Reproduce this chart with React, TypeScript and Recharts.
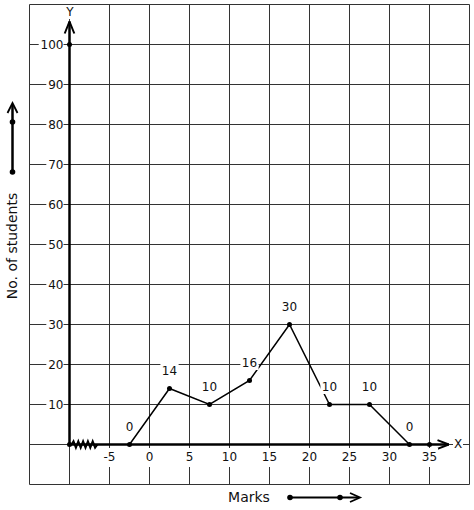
import React from 'react';
import {
  ComposedChart, Line, Scatter, XAxis, YAxis, CartesianGrid, ReferenceLine, LabelList,
} from 'recharts';

if (typeof document !== 'undefined') document.body.style.margin = '0';

// frequency polygon: class mid-points and no. of students
const midMarks = [-2.5, 2.5, 7.5, 12.5, 17.5, 22.5, 27.5, 32.5];
const students = [0, 14, 10, 16, 30, 10, 10, 0];

// grid ticks and the ones that get a label
const xTicks = [-15, -10, -5, 0, 5, 10, 15, 20, 25, 30, 35, 40];
const yTicks = [-10, 0, 10, 20, 30, 40, 50, 60, 70, 80, 90, 100, 110];
const xLabelTicks = [-5, 0, 5, 10, 15, 20, 25, 30, 35];
const yLabelTicks = [10, 20, 30, 40, 50, 60, 70, 80, 90, 100];

// extra dots on the axes
const axisDotMarks = [-10, -10, 35];
const axisDotStudents = [0, 100, 0];

// kink (zig-zag) on the x axis near the origin
const zigMarks = [-9.75, -9.5, -9.2, -8.9, -8.6, -8.3, -8.0, -7.7, -7.4, -7.1, -6.8, -6.5];
const zigStudents = [0, 0.8, -0.8, 0.8, -0.8, 0.8, -0.8, 0.8, -0.8, 0.8, -0.8, 0];

const polygon = midMarks.map((m, i) => ({ marks: m, students: students[i] }));
const axisDots = axisDotMarks.map((m, i) => ({ marks: m, students: axisDotStudents[i] }));
const zigzag = zigMarks.map((m, i) => ({ marks: m, students: zigStudents[i] }));

const FONT = '"DejaVu Sans", sans-serif';
const INK = '#111';

function XTick({ x, y, payload }: any) {
  if (!xLabelTicks.includes(payload.value)) return null;
  const label = String(payload.value);
  const w = label.length * 7.6 + 2;
  const cy = y - 27.5;
  return (
    <g>
      <rect x={x - w / 2} y={cy - 9} width={w} height={19} fill="#fff" />
      <text x={x} y={cy} textAnchor="middle" dominantBaseline="central"
        fontFamily={FONT} fontSize={12} fill={INK}>{label}</text>
    </g>
  );
}

function YTick({ x, y, payload }: any) {
  if (!yLabelTicks.includes(payload.value)) return null;
  const label = String(payload.value);
  const w = label.length * 7.6 + 2;
  const right = x + 34;
  return (
    <g>
      <rect x={right - w} y={y - 6} width={w} height={12} fill="#fff" />
      <text x={right} y={y} textAnchor="end" dominantBaseline="central"
        fontFamily={FONT} fontSize={12} fill={INK}>{label}</text>
    </g>
  );
}

function PointLabel(props: any) {
  const { x, y, value } = props;
  const label = String(value);
  const w = label.length * 7.6 + 3;
  const cy = y - 18;
  return (
    <g>
      <rect x={x - w / 2} y={cy - 7.5} width={w} height={15} fill="#fff" />
      <text x={x} y={cy} textAnchor="middle" dominantBaseline="central"
        fontFamily={FONT} fontSize={12} fill={INK}>{label}</text>
    </g>
  );
}

const dotShape = (p: any) => <circle cx={p.cx} cy={p.cy} r={2.5} fill="#000" />;

export default function App() {
  return (
    <div style={{ position: 'relative', width: 474, height: 510, background: '#fff' }}>
      <ComposedChart
        width={474}
        height={510}
        margin={{ top: 4.5, right: 4.5, bottom: 24.5, left: 28.5 }}
      >
        <CartesianGrid stroke="#333" strokeWidth={1} />
        <XAxis
          type="number"
          dataKey="marks"
          domain={[-15, 40]}
          ticks={xTicks}
          interval={0}
          height={1}
          axisLine={false}
          tickLine={false}
          tickSize={0}
          tickMargin={0}
          tick={<XTick />}
          allowDataOverflow
        />
        <YAxis
          type="number"
          dataKey="students"
          domain={[-10, 110]}
          ticks={yTicks}
          interval={0}
          width={1}
          axisLine={false}
          tickLine={false}
          tickSize={0}
          tickMargin={0}
          tick={<YTick />}
          allowDataOverflow
        />
        {/* axes with arrow heads */}
        <ReferenceLine segment={[{ x: -10, y: 0 }, { x: 37.4, y: 0 }]} stroke="#000" strokeWidth={2.5} />
        <ReferenceLine segment={[{ x: -10, y: 0 }, { x: -10, y: 105.75 }]} stroke="#000" strokeWidth={2.5} />
        <ReferenceLine segment={[{ x: 36.0, y: 1.1 }, { x: 37.4, y: 0 }]} stroke="#000" strokeWidth={2} />
        <ReferenceLine segment={[{ x: 36.0, y: -1.1 }, { x: 37.4, y: 0 }]} stroke="#000" strokeWidth={2} />
        <ReferenceLine segment={[{ x: -10.6, y: 102.75 }, { x: -10, y: 105.75 }]} stroke="#000" strokeWidth={2} />
        <ReferenceLine segment={[{ x: -9.4, y: 102.75 }, { x: -10, y: 105.75 }]} stroke="#000" strokeWidth={2} />
        <Line
          data={zigzag}
          dataKey="students"
          stroke="#000"
          strokeWidth={2}
          dot={false}
          isAnimationActive={false}
        />
        <Line
          data={polygon}
          dataKey="students"
          stroke="#000"
          strokeWidth={1.5}
          dot={{ r: 2.5, fill: '#000', stroke: '#000', strokeWidth: 0 }}
          isAnimationActive={false}
        >
          <LabelList dataKey="students" content={<PointLabel />} />
        </Line>
        <Scatter data={axisDots} dataKey="students" shape={dotShape} isAnimationActive={false} />
      </ComposedChart>

      {/* axis names and direction arrows */}
      <svg width={474} height={510} style={{ position: 'absolute', left: 0, top: 0, pointerEvents: 'none' }}>
        <rect x={64} y={5} width={11} height={14} fill="#fff" />
        <text x={70} y={12} textAnchor="middle" dominantBaseline="central" fontFamily={FONT} fontSize={12} fill={INK}>Y</text>
        <rect x={453} y={437} width={10} height={14} fill="#fff" />
        <text x={458} y={444} textAnchor="middle" dominantBaseline="central" fontFamily={FONT} fontSize={12} fill={INK}>X</text>

        <text x={249} y={497} textAnchor="middle" dominantBaseline="central" fontFamily={FONT} fontSize={14} fill={INK}>Marks</text>
        <line x1={290} y1={497.5} x2={359} y2={497.5} stroke="#000" strokeWidth={2} />
        <polyline points="350,493 360,497.5 350,502" fill="none" stroke="#000" strokeWidth={1.8} />
        <circle cx={290} cy={497.5} r={2.8} fill="#000" />
        <circle cx={340} cy={497.5} r={2.8} fill="#000" />

        <text x={12} y={246} textAnchor="middle" dominantBaseline="central" fontFamily={FONT} fontSize={14} fill={INK}
          transform="rotate(-90 12 246)">No. of students</text>
        <line x1={12.5} y1={172} x2={12.5} y2={104} stroke="#000" strokeWidth={2.5} />
        <polyline points="7.5,113 12.5,103 17.5,113" fill="none" stroke="#000" strokeWidth={1.8} />
        <circle cx={12.5} cy={122} r={2.8} fill="#000" />
        <circle cx={12.5} cy={172} r={2.8} fill="#000" />
      </svg>
    </div>
  );
}
